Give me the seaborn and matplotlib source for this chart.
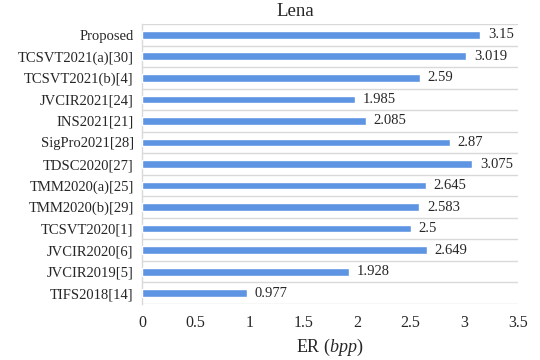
import matplotlib
matplotlib.use("Agg")
import matplotlib.pyplot as plt
import seaborn as sns
import numpy as np
import pandas as pd

methods = ["Proposed", "TCSVT2021(a)[30]", "TCSVT2021(b)[4]", "JVCIR2021[24]",
           "INS2021[21]", "SigPro2021[28]", "TDSC2020[27]", "TMM2020(a)[25]",
           "TMM2020(b)[29]", "TCSVT2020[1]", "JVCIR2020[6]", "JVCIR2019[5]",
           "TIFS2018[14]"]
er_values = [3.15, 3.019, 2.59, 1.985, 2.085, 2.87, 3.075, 2.645, 2.583, 2.5,
             2.649, 1.928, 0.977]
value_labels = ["3.15", "3.019", "2.59", "1.985", "2.085", "2.87", "3.075",
                "2.645", "2.583", "2.5", "2.649", "1.928", "0.977"]
x_ticks = [0, 0.5, 1, 1.5, 2, 2.5, 3, 3.5]
x_tick_labels = ["0", "0.5", "1", "1.5", "2", "2.5", "3", "3.5"]

sns.set_style("white")
plt.rcParams['font.family'] = ['Liberation Serif', 'DejaVu Serif']
plt.rcParams['font.size'] = 10.5
plt.rcParams['mathtext.fontset'] = 'custom'
plt.rcParams['mathtext.rm'] = 'Liberation Serif'
plt.rcParams['mathtext.it'] = 'Liberation Serif:italic'

df = pd.DataFrame({"method": methods, "er": er_values})

fig = plt.figure(figsize=(5.4, 3.6), dpi=100)
ax = fig.add_axes([142 / 540, 1 - 304 / 360, 376 / 540, 280 / 360])

sns.barplot(data=df, x="er", y="method", color="#5E95E3", width=0.36,
            saturation=1, ax=ax, zorder=3)

for i, (v, lab) in enumerate(zip(er_values, value_labels)):
    ax.text(v + 0.07, i, lab, va="center", ha="left", fontsize=10.5)

ax.set_xlim(0, 3.5)
ax.set_ylim(len(methods) - 0.5, -0.5)
ax.set_xticks(x_ticks)
ax.set_xticklabels(x_tick_labels, fontsize=11.5)
ax.set_yticks(np.arange(len(methods)))
ax.set_yticks(np.arange(len(methods) + 1) - 0.5, minor=True)
ax.grid(which="minor", axis="y", color="#D9D9D9", linewidth=1)
ax.grid(which="major", axis="both", visible=False)
ax.tick_params(axis="both", which="both", length=0)
ax.tick_params(axis="x", pad=8)
ax.tick_params(axis="y", pad=6)
for side in ["top", "right", "bottom"]:
    ax.spines[side].set_visible(False)
ax.spines["left"].set_color("#D9D9D9")
ax.spines["left"].set_linewidth(1)
ax.set_ylabel("")
ax.set_xlabel("ER ($\\mathit{bpp}$)", fontsize=13, labelpad=4)

fig.text(295 / 540, 1 - 11 / 360, "Lena", ha="center", va="center", fontsize=13.5)

fig.savefig("out.png", dpi=100)
